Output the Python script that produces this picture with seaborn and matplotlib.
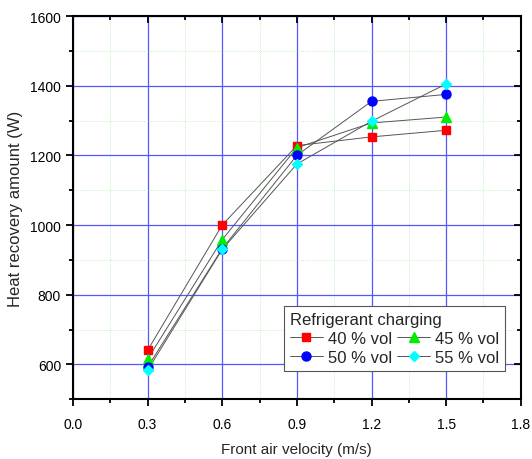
import pandas as pd
import seaborn as sns
import matplotlib.pyplot as plt
from matplotlib.lines import Line2D
from matplotlib.ticker import MultipleLocator

velocity = [0.3, 0.6, 0.9, 1.2, 1.5]
vol_40 = [640, 1000, 1228, 1253, 1272]
vol_45 = [615, 958, 1222, 1293, 1310]
vol_50 = [592, 932, 1200, 1355, 1375]
vol_55 = [583, 930, 1175, 1298, 1405]
series_names = ["40 % vol", "45 % vol", "50 % vol", "55 % vol"]

sns.set_style("white")
plt.rcParams["font.family"] = ["Liberation Sans", "DejaVu Sans"]

frames = []
for name, vals in zip(series_names, [vol_40, vol_45, vol_50, vol_55]):
    frames.append(pd.DataFrame({"v": velocity, "q": vals, "charge": name}))
dados = pd.concat(frames, ignore_index=True)

cores = {"40 % vol": "#ff0000", "45 % vol": "#00ee00", "50 % vol": "#0000ff", "55 % vol": "#00ffff"}
marcadores = {"40 % vol": "s", "45 % vol": "^", "50 % vol": "o", "55 % vol": "D"}
tamanhos = {"40 % vol": 5.5, "45 % vol": 6.5, "50 % vol": 6.5, "55 % vol": 5.5}

fig = plt.figure(figsize=(5.32, 4.6), dpi=100)
ax = fig.add_axes([0.137, 0.13, 0.842, 0.833])

for name in series_names:
    sub = dados[dados["charge"] == name]
    sns.lineplot(data=sub, x="v", y="q", color="#555555", linewidth=0.7, ax=ax, zorder=3)
    ax.plot(sub["v"], sub["q"], linestyle="none", marker=marcadores[name],
            markersize=tamanhos[name], color=cores[name], zorder=4)

ax.set_xlim(0, 1.8)
ax.set_ylim(500, 1600)
ax.xaxis.set_major_locator(MultipleLocator(0.3))
ax.xaxis.set_minor_locator(MultipleLocator(0.15))
ax.yaxis.set_major_locator(MultipleLocator(200))
ax.yaxis.set_minor_locator(MultipleLocator(100))
ax.set_xticks([0.0, 0.3, 0.6, 0.9, 1.2, 1.5, 1.8])
ax.set_xticklabels(["0.0", "0.3", "0.6", "0.9", "1.2", "1.5", "1.8"])

ax.grid(which="major", color="#5555ff", linewidth=0.9)
ax.grid(which="minor", color="#aaf0aa", linewidth=0.6, linestyle=":")
ax.set_axisbelow(True)

for s in ax.spines.values():
    s.set_linewidth(1.5)
    s.set_color("black")
    s.set_visible(True)
    s.set_zorder(5)

ax.tick_params(which="both", direction="out", labelsize=10, width=1.3, colors="black")
ax.tick_params(which="major", length=5)
ax.tick_params(which="minor", length=3)
ax.tick_params(axis="x", which="both", top=True, bottom=True)
ax.tick_params(axis="x", which="major", pad=8)
ax.tick_params(axis="y", which="both", left=True, right=True)
# ticks on the top and right edges point inwards
for t in ax.xaxis.get_major_ticks() + ax.xaxis.get_minor_ticks():
    t.tick2line.set_marker(3)
for t in ax.yaxis.get_major_ticks() + ax.yaxis.get_minor_ticks():
    t.tick2line.set_marker(0)

ax.set_xlabel("Front air velocity (m/s)", fontsize=11, labelpad=8)
ax.set_ylabel("Heat recovery amount (W)", fontsize=12, labelpad=5)

handles = {n: Line2D([], [], color="#555555", linewidth=0.7, marker=marcadores[n],
                     markersize=tamanhos[n], markerfacecolor=cores[n],
                     markeredgecolor=cores[n]) for n in series_names}
ordem = ["40 % vol", "50 % vol", "45 % vol", "55 % vol"]
leg = ax.legend([handles[n] for n in ordem], ordem, title="Refrigerant charging", ncol=2,
                loc="lower right", bbox_to_anchor=(0.984, 0.052), fontsize=12,
                title_fontsize=12, frameon=True, fancybox=False, edgecolor="#555555",
                handlelength=2.0, handletextpad=0.3, columnspacing=0.3,
                borderpad=0.35, labelspacing=0.25, framealpha=1)
leg._legend_box.align = "left"
leg.get_frame().set_linewidth(0.8)

fig.savefig("out.png", dpi=100)
